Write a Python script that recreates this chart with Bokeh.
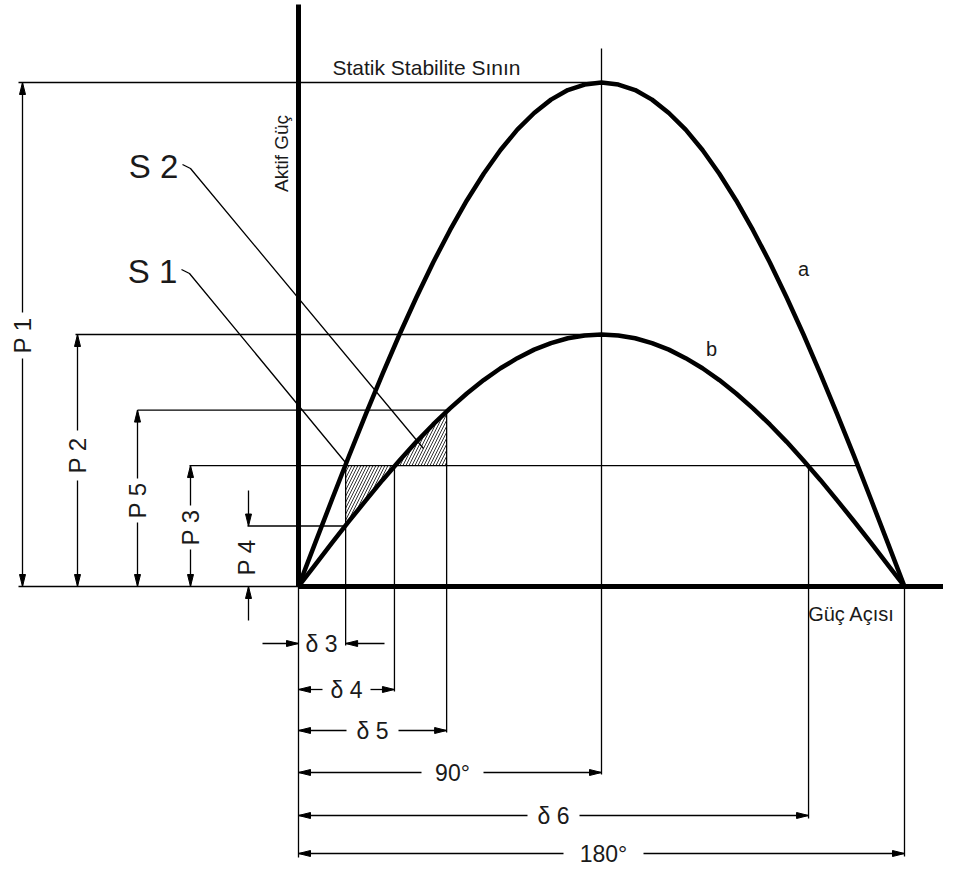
import math
from bokeh.plotting import figure
from bokeh.models import Range1d
from bokeh.core.properties import value
from bokeh.embed import file_html
from bokeh.resources import INLINE

# ---------------- data ----------------
# power angle in degrees
angles = [0, 5, 10, 15, 20, 25, 30, 35, 40, 45, 50, 55, 60, 65, 70, 75, 80, 85, 90,
          95, 100, 105, 110, 115, 120, 125, 130, 135, 140, 145, 150, 155, 160, 165, 170, 175, 180]
# curve a, per unit
curve_a = [0.000, 0.174, 0.347, 0.518, 0.684, 0.845, 1.000, 1.147, 1.286, 1.414, 1.532, 1.638, 1.732,
           1.813, 1.879, 1.932, 1.970, 1.992, 2.000,
           1.992, 1.970, 1.932, 1.879, 1.813, 1.732, 1.638, 1.532, 1.414, 1.286, 1.147, 1.000, 0.845,
           0.684, 0.518, 0.347, 0.174, 0.000]
# curve b, per unit
curve_b = [0.000, 0.087, 0.174, 0.259, 0.342, 0.423, 0.500, 0.574, 0.643, 0.707, 0.766, 0.819, 0.866,
           0.906, 0.940, 0.966, 0.985, 0.996, 1.000,
           0.996, 0.985, 0.966, 0.940, 0.906, 0.866, 0.819, 0.766, 0.707, 0.643, 0.574, 0.500, 0.423,
           0.342, 0.259, 0.174, 0.087, 0.000]

power_names = ["P 1", "P 2", "P 5", "P 3", "P 4"]
power_values = [2.00, 1.00, 0.70, 0.48, 0.24]
P1, P2, P5, P3, P4 = power_values

angle_names = ["δ 3", "δ 4", "δ 5", "90°", "δ 6", "180°"]
angle_values = [14.0, 28.5, 44.0, 90.0, 151.5, 180.0]
d3, d4, d5, d90, d6, d180 = angle_values

# S1 / S2 hatched areas (angle, power) read along curve b
s1_x = [d3, d4, 25, 20, 15, d3]
s1_y = [P3, P3, 0.423, 0.342, 0.259, P4]
s2_x = [d4, 30, 35, 40, d5, d5]
s2_y = [P3, 0.500, 0.574, 0.643, P5, P3]

# ---------------- geometry helpers ----------------
W, H = 943, 865
OX, OY = 298.0, 586.0          # origin in picture pixels
SX = 303.0 / 90.0              # px per degree
SY = 252.0                     # px per unit

def X(px):
    return (px - OX) / SX

def Y(py):
    return (OY - py) / SY

p = figure(width=W, height=H, output_backend="svg", toolbar_location=None,
           x_range=Range1d(X(0), X(W)), y_range=Range1d(Y(H), Y(0)),
           x_axis_type=None, y_axis_type=None, min_border=0)
p.grid.visible = False
p.outline_line_color = None
p.background_fill_color = "white"
p.border_fill_color = "white"

thin_x, thin_y = [], []

def seg(x0, y0, x1, y1):
    thin_x.append([x0, x1])
    thin_y.append([y0, y1])

tri_x, tri_y = [], []
AL, AW = 12.0, 3.0

def head(x, y, d):
    if d == "right":
        tri_x.append([x, x - AL / SX, x - AL / SX]); tri_y.append([y, y + AW / SY, y - AW / SY])
    elif d == "left":
        tri_x.append([x, x + AL / SX, x + AL / SX]); tri_y.append([y, y + AW / SY, y - AW / SY])
    elif d == "up":
        tri_x.append([x, x - AW / SX, x + AW / SX]); tri_y.append([y, y - AL / SY, y - AL / SY])
    else:
        tri_x.append([x, x - AW / SX, x + AW / SX]); tri_y.append([y, y + AL / SY, y + AL / SY])

# ---------------- extension lines ----------------
seg(X(18), P1, d90, P1)
seg(X(75), P2, d90, P2)
seg(X(137), P5, d5, P5)
seg(X(189), P3, 180 - d3, P3)
seg(X(247), P4, d3, P4)
seg(X(18), 0, 0, 0)

seg(d3, P3, d3, Y(645))
seg(d4, P3, d4, Y(691))
seg(d5, P5, d5, Y(732))
seg(d90, Y(48), d90, Y(774))
seg(d6, P3, d6, Y(818))
seg(d180, 0, d180, Y(856))
seg(0, 0, 0, Y(857))

# ---------------- vertical dimensions (P) ----------------
vdims = [  # x px, value, label centre px, gap
    (22, P1, 335, 23),
    (77, P2, 455, 25),
    (137, P5, 500, 22),
    (190, P3, 527, 22),
]
lab_x, lab_y, lab_t = [], [], []
for (xp, val, lc, g), name in zip(vdims, power_names[:4]):
    xd = X(xp)
    seg(xd, val, xd, Y(lc - g))
    seg(xd, Y(lc + g), xd, 0)
    head(xd, val, "up")
    head(xd, 0, "down")
    lab_x.append(xd); lab_y.append(Y(lc)); lab_t.append(name)
# P4: arrows from outside
xd = X(248)
seg(xd, Y(490), xd, P4); head(xd, P4, "down")
seg(xd, Y(620), xd, 0); head(xd, 0, "up")
lab_x.append(X(246)); lab_y.append(Y(557)); lab_t.append(power_names[4])

p.text(x=lab_x, y=lab_y, text=lab_t, angle=math.pi / 2, text_align="center",
       text_baseline="middle", text_font=value("Liberation Sans"), text_font_size="24px",
       text_color="#1a1a1a")

# ---------------- horizontal dimensions (δ) ----------------
hx, hy, ht = [], [], []
# δ3 : arrows from outside
yd = Y(643)
seg(X(262), yd, 0, yd); head(0, yd, "right")
seg(X(384), yd, d3, yd); head(d3, yd, "left")
hx.append(X(321)); hy.append(yd); ht.append(angle_names[0])
hdims = [  # y px, value, label centre px, gap
    (689, d4, 346, 24),
    (730, d5, 372, 26),
    (772, d90, 452, 31),
    (815, d6, 553, 26),
    (853, d180, 603, 40),
]
for (yp, val, lc, g), name in zip(hdims, angle_names[1:]):
    yd = Y(yp)
    seg(0, yd, X(lc - g), yd)
    seg(X(lc + g), yd, val, yd)
    head(0, yd, "left")
    head(val, yd, "right")
    hx.append(X(lc)); hy.append(yd); ht.append(name)

p.text(x=hx, y=hy, text=ht, text_align="center", text_baseline="middle",
       text_font=value("Liberation Sans"), text_font_size="23px", text_color="#1a1a1a")

# ---------------- leaders ----------------
thin_x.append([X(182), X(190), X(423)]); thin_y.append([Y(164), Y(168), Y(448)])
thin_x.append([X(181), X(189), X(345)]); thin_y.append([Y(269), Y(273), Y(462)])

p.multi_line(xs=thin_x, ys=thin_y, line_color="black", line_width=1.3)
p.patches(xs=tri_x, ys=tri_y, fill_color="black", line_color="black", line_width=1)

# ---------------- hatched areas ----------------
p.patches(xs=[s1_x, s2_x], ys=[s1_y, s2_y], fill_color=None, line_color=None,
          hatch_pattern="/", hatch_color="black", hatch_scale=6, hatch_weight=0.8)

# ---------------- axes and curves ----------------
p.line(x=[0, 0], y=[0, Y(4)], line_color="black", line_width=5)
p.line(x=[0, X(960)], y=[0, 0], line_color="black", line_width=5)
p.line(x=angles, y=curve_a, line_color="black", line_width=4.5, line_join="round")
p.line(x=angles, y=curve_b, line_color="black", line_width=4.5, line_join="round")

# ---------------- labels ----------------
font = value("Liberation Sans")
p.text(x=[X(332)], y=[Y(67)], text=["Statik Stabilite Sının"], text_align="left",
       text_baseline="middle", text_font=font, text_font_size="21px", text_color="#1a1a1a")
p.text(x=[X(281)], y=[Y(153)], text=["Aktif Güç"], angle=math.pi / 2, text_align="center",
       text_baseline="middle", text_font=font, text_font_size="19px", text_color="#1a1a1a")
p.text(x=[X(851)], y=[Y(613)], text=["Güç Açısı"], text_align="center",
       text_baseline="middle", text_font=font, text_font_size="20px", text_color="#1a1a1a")
p.text(x=[X(803), X(711)], y=[Y(268), Y(348)], text=["a", "b"], text_align="center",
       text_baseline="middle", text_font=font, text_font_size="20px", text_color="#1a1a1a")
p.text(x=[X(153), X(152)], y=[Y(166), Y(271)], text=["S 2", "S 1"], text_align="center",
       text_baseline="middle", text_font=font, text_font_size="33px", text_color="#1a1a1a")

open("out.html", "w").write(file_html(p, INLINE))
